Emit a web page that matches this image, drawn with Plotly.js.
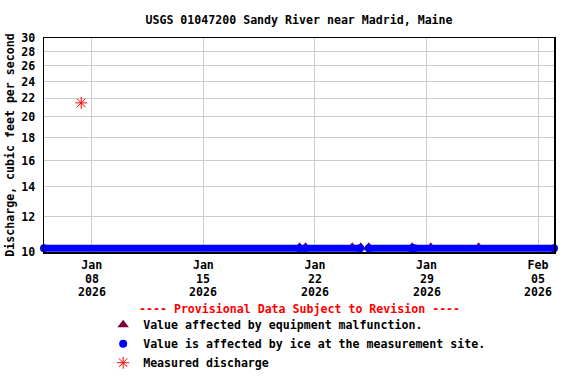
<!DOCTYPE html>
<html><head><meta charset="utf-8">
<script src="https://cdn.plot.ly/plotly-3.0.1.min.js"></script>
<style>html,body{margin:0;padding:0;background:#fff}#chart{width:576px;height:384px}</style>
</head><body><div id="chart"></div>
<script>
// Ice-affected discharge (segments, null = gap)
const iceTimes = ['2026-01-05 00:00','2026-01-21 01:00',null,
                  '2026-01-21 09:00','2026-01-24 20:00',null,
                  '2026-01-25 09:00','2026-01-28 02:00',null,
                  '2026-01-28 06:00','2026-02-06 00:00'];
const iceValues = [10.2,10.2,null,10.2,10.2,null,10.2,10.2,null,10.2,10.2];
// Equipment malfunction values
const eqTimes = ['2026-01-21 00:45','2026-01-21 09:50','2026-01-24 08:10','2026-01-24 21:00',
                 '2026-01-25 09:00','2026-01-28 02:30','2026-01-29 06:20','2026-02-01 06:30'];
const eqValues = [10.25,10.25,10.25,10.25,10.25,10.25,10.25,10.25];
// Measured discharge
const measTimes = ['2026-01-07 08:00'];
const measValues = [21.5];
// Axis ticks
const xTickVals = ['2026-01-08','2026-01-15','2026-01-22','2026-01-29','2026-02-05'];
const xTickMonth = ['Jan','Jan','Jan','Jan','Feb'];
const xTickDay = ['08','15','22','29','05'];
const xTickYear = ['2026','2026','2026','2026','2026'];
const yTickVals = [10,12,14,16,18,20,22,24,26,28,30];

const F = 'DejaVu Sans Mono, Liberation Mono, monospace';
const fnt = {family: F, size: 11.6, color: '#000', weight: 'bold'};
const xRange = ['2026-01-05 00:00','2026-02-06 00:00'];

const traces = [
  {x: eqTimes, y: eqValues, type: 'scatter', mode: 'markers', name: 'Value affected by equipment malfunction.',
   marker: {symbol: 'triangle-up', size: 10, color: '#800040'}, cliponaxis: false},
  {x: iceTimes, y: iceValues, type: 'scatter', mode: 'lines', showlegend: false,
   line: {color: '#0000ff', width: 7}, connectgaps: false},
  {x: iceTimes, y: iceValues, type: 'scatter', mode: 'markers', name: 'Value is affected by ice at the measurement site.',
   marker: {symbol: 'circle', size: 8, color: '#0000ff'}, cliponaxis: false},
  {x: measTimes, y: measValues, type: 'scatter', mode: 'markers', name: 'Measured discharge',
   marker: {symbol: 'asterisk-open', size: 10, color: '#ff0000', line: {color: '#ff0000', width: 1}}}
];

// second and third lines of the date tick labels
const tickAnnots = [];
xTickVals.forEach((v, i) => {
  tickAnnots.push({text: xTickDay[i], xref: 'x', yref: 'paper', x: v, y: -0.126, xanchor: 'center', yanchor: 'middle',
                   showarrow: false, font: fnt});
  tickAnnots.push({text: xTickYear[i], xref: 'x', yref: 'paper', x: v, y: -0.186, xanchor: 'center', yanchor: 'middle',
                   showarrow: false, font: fnt});
});

const layout = {
  width: 576, height: 384,
  margin: {l: 44, r: 22, t: 38, b: 132, autoexpand: false},
  paper_bgcolor: '#fff', plot_bgcolor: '#fff',
  title: {text: 'USGS 01047200 Sandy River near Madrid, Maine', font: fnt, x: 0.5, xref: 'paper', y: 0.948, yanchor: 'middle'},
  xaxis: {type: 'date', range: xRange, tickmode: 'array', tickvals: xTickVals, ticktext: xTickMonth,
          tickfont: fnt, showgrid: true, gridcolor: '#cccccc', gridwidth: 1, showline: true, mirror: true,
          linecolor: '#000', linewidth: 1.5, ticks: 'outside', ticklen: 2, tickcolor: 'rgba(0,0,0,0)', zeroline: false, automargin: false},
  yaxis: {type: 'log', range: [Math.log10(10), Math.log10(30)], tickmode: 'array', tickvals: yTickVals, ticktext: yTickVals.map(String),
          tickfont: fnt, showgrid: true, gridcolor: '#cccccc', gridwidth: 1, showline: true, mirror: true,
          linecolor: '#000', linewidth: 1.5, ticks: 'outside', ticklen: 5, tickcolor: 'rgba(0,0,0,0)', zeroline: false, automargin: false,
          title: {text: 'Discharge, cubic feet per second', font: fnt, standoff: 4}},
  showlegend: true,
  legend: {x: 0.116, xanchor: 'left', y: -0.272, yanchor: 'top', font: fnt, bgcolor: 'rgba(0,0,0,0)', traceorder: 'normal'},
  annotations: tickAnnots.concat([{text: '---- Provisional Data Subject to Revision ----', xref: 'paper', yref: 'paper', x: 0.5, y: -0.268,
                 xanchor: 'center', yanchor: 'middle', showarrow: false, font: {family: F, size: 11.6, color: '#ff0000', weight: 'bold'}}])
};
Plotly.newPlot('chart', traces, layout, {displayModeBar: false, staticPlot: true});
</script></body></html>
